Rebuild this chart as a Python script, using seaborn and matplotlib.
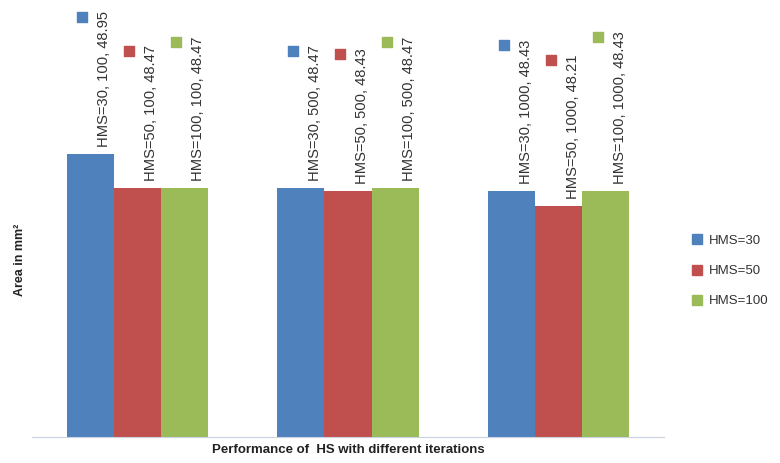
import matplotlib
matplotlib.use("Agg")
import matplotlib.pyplot as plt
import seaborn as sns
import pandas as pd
from matplotlib.lines import Line2D

# Data: harmony memory sizes, iteration counts and resulting area
hms_sizes = [30, 50, 100]
iterations = [100, 500, 1000]
area_hms30 = [48.95, 48.47, 48.43]
area_hms50 = [48.47, 48.43, 48.21]
area_hms100 = [48.47, 48.47, 48.43]
colors = ["#4F81BD", "#C0504D", "#9BBB59"]

rows = []
for h, vals in zip(hms_sizes, [area_hms30, area_hms50, area_hms100]):
    for it, v in zip(iterations, vals):
        rows.append({"iterations": str(it), "hms": f"HMS={h}", "area": v, "h": h, "it": it})
df = pd.DataFrame(rows)

sns.set_theme(style="white")
plt.rcParams["font.family"] = ["Liberation Sans", "DejaVu Sans"]

fig = plt.figure(figsize=(7.8, 4.63), dpi=100)
ax = fig.add_axes([32 / 780, 26 / 463, 632 / 780, 428 / 463])

sns.barplot(data=df, x="iterations", y="area", hue="hms",
            palette=colors, width=0.67, gap=0, legend=False,
            saturation=1, ax=ax, errorbar=None, linewidth=0)

ax.set_xlim(-0.5, 2.5)
ax.set_ylim(44.9, 51.03)
ax.set_xticks([])
ax.set_yticks([])
ax.set_xlabel("")
ax.set_ylabel("")
for side in ["top", "right", "left"]:
    ax.spines[side].set_visible(False)
ax.spines["bottom"].set_color("#c9d3e0")
ax.spines["bottom"].set_linewidth(0.8)

# Rotated value labels above each bar
labels = []
for ci, cont in enumerate(ax.containers):
    sub = df[df["h"] == hms_sizes[ci]]
    for bar, (_, r) in zip(cont.patches, sub.iterrows()):
        cx = bar.get_x() + bar.get_width() / 2
        top = bar.get_height()
        t = ax.annotate(f"HMS={r['h']}, {r['it']}, {r['area']:.2f}",
                        xy=(cx, top), xytext=(14, 7), textcoords="offset pixels",
                        rotation=90, ha="center", va="bottom",
                        fontsize=10.6, color="#333333", annotation_clip=False)
        labels.append((t, cx, colors[ci]))

# Legend-key squares at the top of each value label
fig.canvas.draw()
renderer = fig.canvas.get_renderer()
inv = ax.transData.inverted()
for t, cx, col in labels:
    bb = t.get_window_extent(renderer)
    px, _ = ax.transData.transform((cx, 0))
    dx, dy = inv.transform((px - 8, bb.y1 - 6))
    ax.scatter([dx], [dy], marker="s", s=42, color=col, clip_on=False, zorder=5)

handles = [Line2D([], [], marker="s", linestyle="none", markersize=6.5,
                  markerfacecolor=c, markeredgecolor=c) for c in colors]
fig.legend(handles, [f"HMS={h}" for h in hms_sizes],
           loc="center left", bbox_to_anchor=(691 / 780, 1 - 271 / 463),
           frameon=False, fontsize=9.5, labelspacing=1.35, handlelength=0.9,
           handletextpad=0.45, borderaxespad=0, borderpad=0,
           labelcolor="#333333")

fig.text(20 / 780, 1 - 260 / 463, "Area in mm²", rotation=90, ha="center",
         va="center", fontsize=9, fontweight="bold", color="#222222")
fig.text(348 / 780, 1 - 450 / 463, "Performance of  HS with different iterations",
         ha="center", va="center", fontsize=9.5, fontweight="bold", color="#222222")

fig.savefig("out.png", dpi=100)
